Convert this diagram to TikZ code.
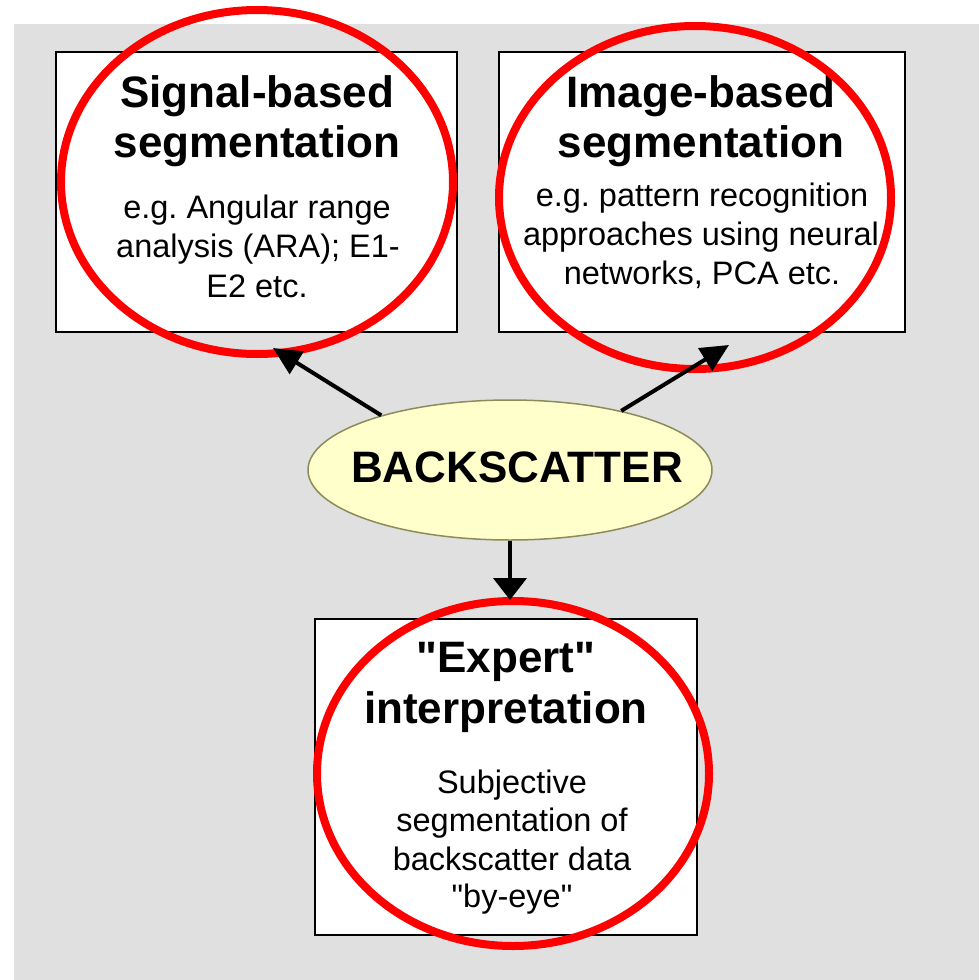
\documentclass[tikz,border=0pt]{standalone}
\usepackage{fontspec}
\setmainfont{Liberation Sans}[Ligatures=TeXOff]
\usetikzlibrary{arrows.meta,shapes.geometric}
\frenchspacing

\definecolor{panelgray}{HTML}{E0E0E0}
\definecolor{ovalfill}{HTML}{FFFFCC}
\definecolor{ovaldraw}{HTML}{8C8C5A}
\definecolor{markred}{HTML}{FF0000}

\tikzset{
  box/.style={draw=black, line width=2pt, fill=white, inner sep=0pt},
  titletext/.style={font=\fontsize{44}{50}\selectfont\bfseries, inner sep=0pt, anchor=base},
  bodytext/.style={font=\fontsize{32.5}{39}\selectfont, inner sep=0pt, anchor=base},
  conn/.style={line width=4pt, black, -{Triangle[length=28pt,width=26pt]}},
  ring/.style={draw=markred, line width=8pt}
}

\begin{document}
\begin{tikzpicture}[x=1pt, y=-1pt]
% canvas and grey panel
\useasboundingbox (0,0) rectangle (979,980);
\fill[white] (0,0) rectangle (979,980);
\fill[panelgray] (14,24) rectangle (979,980);

% three boxes
\node[box, minimum width=401pt, minimum height=280pt] (sig) at (256.5,192) {};
\node[box, minimum width=406pt, minimum height=280pt] (img) at (702,192) {};
\node[box, minimum width=382pt, minimum height=316pt] (exp) at (506,777) {};

% signal-based box text
\node[titletext] (sigt1) at (257,107) {Signal-based};
\node[titletext] (sigt2) at (257,157) {segmentation};
\node[bodytext] (sigb1) at (257,218) {e.g. Angular range};
\node[bodytext] (sigb2) at (258,257) {analysis (ARA); E1-};
\node[bodytext] (sigb3) at (257,297) {E2 etc.};

% image-based box text
\node[titletext] (imgt1) at (701,107) {Image-based};
\node[titletext] (imgt2) at (701,157) {segmentation};
\node[bodytext] (imgb1) at (702,206) {e.g. pattern recognition};
\node[bodytext] (imgb2) at (701,245) {approaches using neural};
\node[bodytext] (imgb3) at (702,284) {networks, PCA etc.};

% expert box text
\node[titletext] (expt1) at (506,672) {"Expert"};
\node[titletext] (expt2) at (506,723) {interpretation};
\node[bodytext] (expb1) at (512,793) {Subjective};
\node[bodytext] (expb2) at (512,831) {segmentation of};
\node[bodytext] (expb3) at (512,870) {backscatter data};
\node[bodytext] (expb4) at (512,907) {"by-eye"};

% central oval
\node[ellipse, draw=ovaldraw, fill=ovalfill, line width=1.5pt,
      minimum width=404pt, minimum height=140pt, inner sep=0pt] (bs) at (510,470) {};
\node[titletext] (bslabel) at (517,482) {BACKSCATTER};

% red rings
\draw[ring] (257,182) ellipse [x radius=196pt, y radius=172pt];
\draw[ring] (695,197.5) ellipse [x radius=196pt, y radius=171.5pt];
\draw[ring] (513,773.5) ellipse [x radius=196pt, y radius=172.5pt];

% connectors
\coordinate (sigtip) at (273,348);
\coordinate (imgtip) at (729,345);
\coordinate (exptip) at (510,600);
\draw[conn] (bs.157) -- (sigtip);
\draw[conn] (bs.28.5) -- (imgtip);
\draw[line width=4pt, black, -{Triangle[length=22pt,width=33pt]}] (bs.south) -- (exptip);
\end{tikzpicture}
\end{document}
